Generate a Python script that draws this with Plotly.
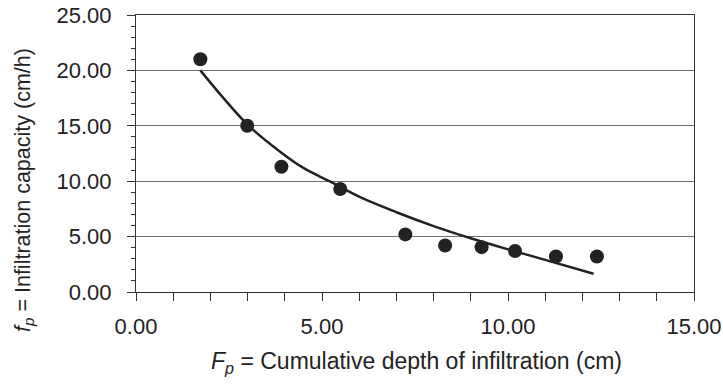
import plotly.graph_objects as go

# Observed data
F_obs = [1.73, 2.99, 3.91, 5.49, 7.24, 8.31, 9.29, 10.19, 11.29, 12.39]
f_obs = [21.0, 15.0, 11.3, 9.3, 5.2, 4.2, 4.05, 3.7, 3.2, 3.2]

# Fitted curve
F_fit = [1.73, 2.3, 3.0, 3.9, 4.5, 5.2, 6.0, 7.0, 8.0, 9.0, 10.0, 11.0, 12.3]
f_fit = [20.0, 17.7, 15.1, 12.6, 11.2, 10.0, 8.6, 7.2, 5.95, 4.85, 3.85, 2.9, 1.65]

x_ticks = [0, 5, 10, 15]
y_ticks = [0, 5, 10, 15, 20, 25]

font_family = "Liberation Sans, Arial, Helvetica, sans-serif"
ink = "#222222"

fig = go.Figure()
fig.add_trace(go.Scatter(x=F_fit, y=f_fit, mode="lines",
                         line=dict(color=ink, width=2.5, shape="spline", smoothing=1.0),
                         hoverinfo="skip", showlegend=False))
fig.add_trace(go.Scatter(x=F_obs, y=f_obs, mode="markers",
                         marker=dict(color=ink, size=14, line=dict(width=0)),
                         showlegend=False))

fig.update_layout(
    width=723, height=385,
    margin=dict(l=135.5, r=29, t=15, b=92.7, pad=0),
    paper_bgcolor="white", plot_bgcolor="white",
    font=dict(family=font_family, size=22, color=ink),
    xaxis=dict(range=[0, 15], tickvals=x_ticks, tickformat=".2f",
               automargin=False, ticklabeloverflow="allow",
               showgrid=False, zeroline=False,
               showline=True, linecolor="#333333", linewidth=1, mirror=True,
               ticks="outside", ticklen=8, tickcolor="#333333", tickwidth=1,
               ticklabelstandoff=7,
               minor=dict(dtick=1, ticks="outside", ticklen=8, tickcolor="#333333", tickwidth=1, showgrid=False),
               tickfont=dict(size=22)),
    yaxis=dict(range=[0, 25], tickvals=y_ticks, tickformat=".2f",
               automargin=False, ticklabeloverflow="allow",
               showgrid=True, gridcolor="#707070", gridwidth=1, zeroline=False,
               showline=True, linecolor="#333333", linewidth=1, mirror=True,
               ticks="outside", ticklen=8, tickcolor="#333333", tickwidth=1,
               ticklabelstandoff=11,
               minor=dict(dtick=1, ticks="outside", ticklen=4, tickcolor="#333333", tickwidth=1, showgrid=False),
               tickfont=dict(size=22)),
    annotations=[
        dict(text="<i>F<sub>p</sub></i> = Cumulative depth of infiltration (cm)",
             xref="paper", yref="paper", x=0.503, y=-0.254, xanchor="center", yanchor="middle",
             showarrow=False, font=dict(size=23)),
        dict(text="<i>f<sub>p</sub></i> = Infiltration capacity (cm/h)",
             xref="paper", yref="paper", x=-0.2, y=0.37, xanchor="center", yanchor="middle",
             textangle=-90, showarrow=False, font=dict(size=21.5)),
    ],
)

fig.write_html("out.html",
               config={"displayModeBar": False},
               post_script="document.body.style.margin='0';document.body.style.padding='0';document.body.style.overflow='hidden';")
